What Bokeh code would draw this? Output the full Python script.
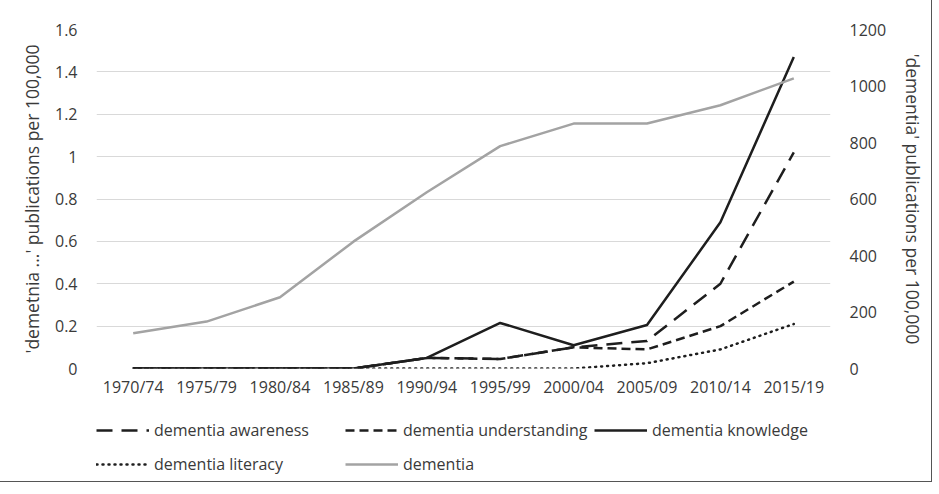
from bokeh.plotting import figure
from bokeh.layouts import column
from bokeh.models import (FactorRange, Range1d, LinearAxis, FixedTicker,
                          NumeralTickFormatter, Legend, LegendItem)
from bokeh.embed import file_html
from bokeh.resources import INLINE

# ---- data ----
periods = ["1970/74", "1975/79", "1980/84", "1985/89", "1990/94",
           "1995/99", "2000/04", "2005/09", "2010/14", "2015/19"]
awareness = [0, 0, 0, 0, 0.05, 0.045, 0.10, 0.13, 0.40, 1.02]
understanding = [0, 0, 0, 0, 0.05, 0.045, 0.10, 0.09, 0.20, 0.41]
knowledge = [0, 0, 0, 0, 0.05, 0.215, 0.11, 0.205, 0.69, 1.47]
literacy = [0, 0, 0, 0, 0, 0, 0, 0.025, 0.09, 0.21]
dementia = [125, 166, 252, 449, 624, 787, 867, 867, 932, 1027]

series_names = ["dementia awareness", "dementia understanding",
                "dementia knowledge", "dementia literacy", "dementia"]

left_ticks = [0, 0.2, 0.4, 0.6, 0.8, 1.0, 1.2, 1.4, 1.6]
right_ticks = [0, 200, 400, 600, 800, 1000, 1200]

left_title = "'demetnia ...' publications per 100,000"
right_title = "'dementia' publications per 100,000"

FONT = "Open Sans"
TXT = "#3a3a3a"
BLACK = "#1e1e1e"
GREY = "#a3a3a3"

styles = [
    dict(line_color=BLACK, line_width=2.5, line_dash="16 9", line_join="round"),
    dict(line_color=BLACK, line_width=2.5, line_dash="9 5", line_join="round"),
    dict(line_color=BLACK, line_width=2.5, line_join="round"),
    dict(line_color=BLACK, line_width=2.5, line_dash="1 5", line_cap="round",
         line_join="round"),
    dict(line_color=GREY, line_width=2.5, line_join="round"),
]

p = figure(frame_width=734, frame_height=339,
           x_range=FactorRange(*periods, range_padding=0),
           y_range=Range1d(0, 1.6), output_backend="svg", toolbar_location=None,
           min_border_left=96, min_border_right=93, min_border_top=29,
           min_border_bottom=40)
p.extra_y_ranges = {"right": Range1d(0, 1200)}
p.outline_line_color = None
p.background_fill_color = "white"
p.border_fill_color = "white"

# grid
p.xgrid.grid_line_color = None
p.ygrid.grid_line_color = "#d9d9d9"
p.ygrid.grid_line_width = 1

# axes
def style_axis(ax):
    ax.axis_line_color = None
    ax.major_tick_line_color = None
    ax.minor_tick_line_color = None
    ax.major_tick_out = 0
    ax.major_tick_in = 0
    ax.major_label_text_font = FONT
    ax.major_label_text_font_size = "16px"
    ax.major_label_text_color = TXT
    ax.axis_label_text_font = FONT
    ax.axis_label_text_font_size = "17.5px"
    ax.axis_label_text_font_style = "normal"
    ax.axis_label_text_color = TXT

xa = p.xaxis[0]
style_axis(xa)
xa.major_label_standoff = 7

ly = p.yaxis[0]
style_axis(ly)
ly.ticker = FixedTicker(ticks=left_ticks)
ly.formatter = NumeralTickFormatter(format="0.[0]")
ly.major_label_standoff = 19
ly.axis_label = left_title
ly.axis_label_standoff = 8

ry = LinearAxis(y_range_name="right", ticker=FixedTicker(ticks=right_ticks),
                formatter=NumeralTickFormatter(format="0"))
style_axis(ry)
ry.major_label_standoff = 19
ry.axis_label = right_title
ry.axis_label_standoff = 12
p.add_layout(ry, "right")

# lines
series = [awareness, understanding, knowledge, literacy]
for vals, st in zip(series, styles[:4]):
    p.line(periods, vals, **st)
p.line(periods, dementia, y_range_name="right", **styles[4])

# legend strip below the chart (same series, drawn outside its view so only
# the legend keys show)
lg = figure(width=923, height=70, output_backend="svg", toolbar_location=None,
            x_range=FactorRange(*periods, range_padding=0),
            y_range=Range1d(-3, -2),
            x_axis_location=None, y_axis_location=None, min_border=0)
lg.outline_line_color = None
lg.grid.visible = False
lg.border_fill_color = "white"
lg.background_fill_color = "white"
items = []
for name, vals, st in zip(series_names, series + [dementia], styles):
    r = lg.line(periods, vals, **st)
    items.append(LegendItem(label=name, renderers=[r]))
legend = Legend(items=items, orientation="horizontal", ncols=3,
                location=(0, 0))
legend.border_line_color = None
legend.background_fill_alpha = 0
legend.margin = 0
legend.padding = 0
legend.spacing = 6
legend.glyph_width = 53
legend.glyph_height = 28
legend.label_height = 28
legend.label_width = 185
legend.label_standoff = 5
legend.label_text_font = FONT
legend.label_text_font_size = "16px"
legend.label_text_color = TXT
lg.add_layout(legend, "center")

page = column(p, lg, spacing=0)
page.styles = {"outline": "1.5px solid #555555", "outline-offset": "3px"}

open("out.html", "w").write(file_html(page, INLINE))
